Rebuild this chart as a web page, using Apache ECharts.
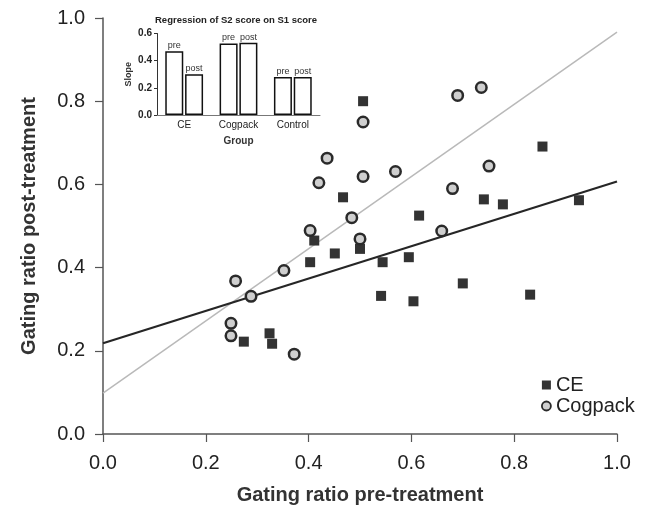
<!DOCTYPE html>
<html><head><meta charset="utf-8">
<script src="https://cdn.jsdelivr.net/npm/echarts@6/dist/echarts.min.js"></script>
<style>html,body{margin:0;padding:0;background:#fff}#c{width:656px;height:511px}</style>
</head><body><div id="c"></div>
<script>
// CE (filled squares)
const ceX = [0.506, 0.855, 0.467, 0.741, 0.778, 0.926, 0.615, 0.411, 0.451, 0.500, 0.403, 0.544, 0.595, 0.541, 0.604, 0.700, 0.831, 0.274, 0.324, 0.329];
const ceY = [0.800, 0.691, 0.569, 0.564, 0.552, 0.562, 0.525, 0.465, 0.434, 0.445, 0.413, 0.413, 0.425, 0.332, 0.319, 0.362, 0.335, 0.222, 0.242, 0.217];
// Cogpack (open circles)
const cogX = [0.506, 0.690, 0.736, 0.436, 0.420, 0.506, 0.569, 0.751, 0.680, 0.484, 0.403, 0.500, 0.659, 0.352, 0.258, 0.288, 0.249, 0.249, 0.372];
const cogY = [0.750, 0.814, 0.833, 0.663, 0.604, 0.619, 0.631, 0.644, 0.590, 0.520, 0.489, 0.469, 0.488, 0.393, 0.368, 0.331, 0.266, 0.236, 0.192];
// regression lines (end points)
const ceFitX = [0, 1];
const ceFitY = [0.218, 0.607];
const cogFitX = [0, 1];
const cogFitY = [0.098, 0.966];
// inset
const insetCategories = ['CE', 'Cogpack', 'Control'];
const slopePre = [0.47, 0.527, 0.28];
const slopePost = [0.30, 0.532, 0.28];
const mainTicks = [0, 0.2, 0.4, 0.6, 0.8, 1.0];
const insetTicks = [0, 0.2, 0.4, 0.6];

const FONT = "'Liberation Sans', Arial, Helvetica, sans-serif";
const zip = (xs, ys) => xs.map((x, i) => [x, ys[i]]);
const fmt1 = v => Number(v).toFixed(1);

const chart = echarts.init(document.getElementById('c'), null, {renderer: 'canvas'});
chart.setOption({
  animation: false,
  backgroundColor: '#fff',
  textStyle: {fontFamily: FONT},
  title: {
    text: 'Regression of S2 score on S1 score',
    left: 155, top: 15, padding: 0,
    textStyle: {fontSize: 9.5, fontWeight: 'bold', color: '#222', fontFamily: FONT}
  },
  legend: {
    orient: 'vertical', left: 536, top: 370,
    itemWidth: 9, itemHeight: 9, itemGap: 1,
    textStyle: {fontSize: 20, color: '#222', fontFamily: FONT},
    data: [
      {name: 'CE', icon: 'rect'},
      {name: 'Cogpack', icon: 'circle', itemStyle: {borderWidth: 1.8}}
    ]
  },
  grid: [
    {left: 103, right: 39, top: 18, bottom: 77},
    {left: 157, right: 336, top: 33.5, bottom: 396}
  ],
  xAxis: [
    {
      type: 'value', gridIndex: 0, min: 0, max: 1, interval: 0.2,
      axisLine: {show: true, lineStyle: {color: '#555', width: 1.5}},
      axisTick: {show: true, length: 8, lineStyle: {color: '#555', width: 1.2}},
      splitLine: {show: false},
      axisLabel: {fontSize: 20, color: '#222', margin: 19, formatter: fmt1, fontFamily: FONT},
      name: 'Gating ratio pre-treatment', nameLocation: 'middle', nameGap: 51,
      nameTextStyle: {fontSize: 20, fontWeight: 'bold', color: '#333', fontFamily: FONT}
    },
    {
      type: 'category', gridIndex: 1, data: insetCategories,
      axisLine: {show: true, lineStyle: {color: '#777', width: 1}},
      axisTick: {show: false},
      axisLabel: {fontSize: 10, color: '#222', margin: 5, fontFamily: FONT},
      name: 'Group', nameLocation: 'middle', nameGap: 21,
      nameTextStyle: {fontSize: 10, fontWeight: 'bold', color: '#333', fontFamily: FONT}
    }
  ],
  yAxis: [
    {
      type: 'value', gridIndex: 0, min: 0, max: 1, interval: 0.2,
      axisLine: {show: true, lineStyle: {color: '#555', width: 1.5}},
      axisTick: {show: true, length: 8, lineStyle: {color: '#555', width: 1.2}},
      splitLine: {show: false},
      axisLabel: {fontSize: 20, color: '#222', margin: 18, formatter: fmt1, fontFamily: FONT},
      name: 'Gating ratio post-treatment', nameLocation: 'middle', nameGap: 64, nameRotate: 90,
      nameTextStyle: {fontSize: 20, fontWeight: 'bold', color: '#333', fontFamily: FONT}
    },
    {
      type: 'value', gridIndex: 1, min: 0, max: 0.6, interval: 0.2,
      axisLine: {show: true, lineStyle: {color: '#333', width: 1}},
      axisTick: {show: true, length: 3, lineStyle: {color: '#333'}},
      splitLine: {show: false},
      axisLabel: {fontSize: 10, fontWeight: 'bold', color: '#222', margin: 5, formatter: fmt1, fontFamily: FONT},
      name: 'Slope', nameLocation: 'middle', nameGap: 24, nameRotate: 90,
      nameTextStyle: {fontSize: 9, fontWeight: 'bold', color: '#333', fontFamily: FONT}
    }
  ],
  series: [
    {
      name: 'Cogpack fit', type: 'line', xAxisIndex: 0, yAxisIndex: 0, z: 1,
      data: zip(cogFitX, cogFitY), symbol: 'none', silent: true,
      lineStyle: {color: '#b9b9b9', width: 1.5}
    },
    {
      name: 'CE fit', type: 'line', xAxisIndex: 0, yAxisIndex: 0, z: 1,
      data: zip(ceFitX, ceFitY), symbol: 'none', silent: true,
      lineStyle: {color: '#262626', width: 2.2}
    },
    {
      name: 'CE', type: 'scatter', xAxisIndex: 0, yAxisIndex: 0, z: 3,
      data: zip(ceX, ceY), symbol: 'rect', symbolSize: 10,
      itemStyle: {color: '#333', opacity: 1}
    },
    {
      name: 'Cogpack', type: 'scatter', xAxisIndex: 0, yAxisIndex: 0, z: 3,
      data: zip(cogX, cogY), symbol: 'circle', symbolSize: 10.5,
      itemStyle: {color: '#cfcfcf', borderColor: '#2a2a2a', borderWidth: 2.5, opacity: 1}
    },
    {
      name: 'pre', type: 'bar', xAxisIndex: 1, yAxisIndex: 1,
      data: slopePre, barWidth: 18, barGap: '10%',
      itemStyle: {color: '#fff', borderColor: '#111', borderWidth: 1.5},
      label: {show: true, position: 'top', distance: 1, formatter: 'pre', fontSize: 9, color: '#333', fontFamily: FONT}
    },
    {
      name: 'post', type: 'bar', xAxisIndex: 1, yAxisIndex: 1,
      data: slopePost, barWidth: 18, barGap: '10%',
      itemStyle: {color: '#fff', borderColor: '#111', borderWidth: 1.5},
      label: {show: true, position: 'top', distance: 1, formatter: 'post', fontSize: 9, color: '#333', fontFamily: FONT}
    }
  ]
});
</script>
</body></html>
